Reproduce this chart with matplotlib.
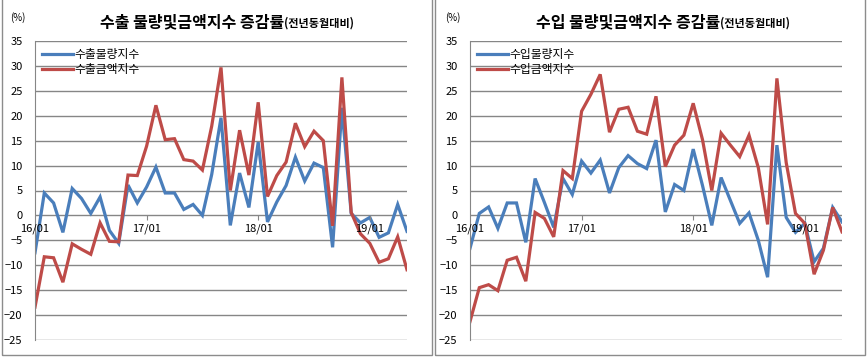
import numpy as np
import matplotlib.pyplot as plt
from matplotlib.patches import Rectangle

plt.rcParams['font.family'] = ['Noto Sans CJK KR', 'DejaVu Sans']

# monthly data, 2016/01 - 2019/05
months = ['16/01', '17/01', '18/01', '19/01']
month_idx = [0, 12, 24, 36]

exp_volume = [-7.5, 4.5, 2.5, -3.4, 5.4, 3.4, 0.4, 3.7, -3.0, -5.6,
              6.1, 2.5, 5.7, 9.7, 4.5, 4.5, 1.2, 2.2, 0.0, 8.2,
              19.6, -2.0, 8.5, 1.6, 14.7, -1.3, 2.7, 6.0, 11.7, 6.9,
              10.5, 9.6, -6.4, 21.6, 0.4, -1.5, -0.4, -4.4, -3.5, 2.2,
              -3.2]
exp_value = [-18.4, -8.3, -8.5, -13.4, -5.7, -6.8, -7.8, -1.5, -5.2, -5.3,
             8.1, 8.0, 13.9, 22.1, 15.2, 15.4, 11.2, 10.9, 9.1, 17.9,
             29.7, 5.0, 17.1, 8.1, 22.7, 3.8, 8.0, 10.7, 18.5, 13.8,
             16.9, 15.0, -2.1, 27.7, 0.6, -3.7, -5.6, -9.4, -8.7, -4.3,
             -10.9]

imp_volume = [-6.6, 0.4, 1.7, -2.6, 2.5, 2.5, -5.4, 7.4, 2.6, -2.4,
              7.4, 4.2, 10.9, 8.5, 11.1, 4.5, 9.6, 12.0, 10.4, 9.4,
              15.1, 0.7, 6.2, 5.0, 13.3, 6.0, -2.0, 7.6, 3.0, -1.6,
              0.5, -5.0, -12.4, 14.1, -0.4, -3.4, -1.6, -9.3, -6.6, 1.6,
              -1.3]
imp_value = [-21.3, -14.5, -13.9, -15.1, -9.0, -8.4, -13.2, 0.6, -0.6, -4.3,
             9.0, 7.4, 20.9, 24.3, 28.3, 16.7, 21.3, 21.7, 16.9, 16.3,
             23.9, 9.8, 14.1, 16.1, 22.5, 15.2, 5.0, 16.5, 14.1, 11.8,
             16.1, 9.6, -1.8, 27.5, 10.6, 0.4, -1.6, -11.8, -7.0, 1.6,
             -3.3]

blue = '#4A7EBB'
red = '#BE4B48'
grid_c = '#868686'

fig = plt.figure(figsize=(8.67, 3.59), dpi=100)
W, H = 867, 359


def px(x, y):
    return x / W, 1 - y / H


panels = [
    dict(left=35, vol=exp_volume, val=exp_value,
         title='수출 물량및금액지수 증감률', split=284,
         labels=['수출물량지수', '수출금액지수']),
    dict(left=470, vol=imp_volume, val=imp_value,
         title='수입 물량및금액지수 증감률', split=720,
         labels=['수입물량지수', '수입금액지수']),
]

for p in panels:
    l, b = px(p['left'], 340)
    ax = fig.add_axes([l, b, 372 / W, 299 / H])
    x = np.arange(len(p['vol']))
    ax.plot(x, p['vol'], color=blue, lw=2.3, label=p['labels'][0],
            solid_joinstyle='miter')
    ax.plot(x, p['val'], color=red, lw=2.3, label=p['labels'][1],
            solid_joinstyle='miter')
    ax.set_xlim(0, len(x) - 1)
    ax.set_ylim(-25, 35)
    ax.set_yticks(np.arange(-25, 36, 5))
    ax.yaxis.grid(True, color=grid_c, lw=1)
    ax.set_axisbelow(True)
    ax.set_xticks([])
    ax.tick_params(axis='y', length=0, pad=9, labelsize=8)
    for s in ['top', 'right', 'bottom']:
        ax.spines[s].set_visible(False)
    ax.spines['left'].set_color(grid_c)
    # category labels sit on the zero line
    ax.vlines(month_idx[1:], -0.9, 0, color=grid_c, lw=0.8)
    for i, m in zip(month_idx, months):
        ax.text(i, -2.7, m, ha='center', va='center', fontsize=8)
    ax.legend(loc='upper left', bbox_to_anchor=(0.02, 0.975), frameon=False,
              fontsize=8.5, handlelength=2.6, handletextpad=0.1,
              labelspacing=0.15, borderpad=0, borderaxespad=0)

    sx, sy = px(p['split'], 27)
    fig.text(sx, sy, p['title'], ha='right', va='baseline', fontsize=11.5,
             fontweight='bold')
    fig.text(sx, sy, '(전년동월대비)', ha='left', va='baseline', fontsize=8,
             fontweight='bold')
    tx, ty = px(p['left'] - 17, 18)
    fig.text(tx, ty, '(%)', ha='center', va='center', fontsize=7)

# panel frames
for x0, x1 in [(2, 432), (435, 865)]:
    fx, fy = px(x0, 355)
    fig.patches.append(Rectangle((fx, fy), (x1 - x0) / W, 1.1 - fy,
                                 transform=fig.transFigure, fill=False,
                                 edgecolor='#8c8c8c', lw=1))

fig.savefig('out.png', dpi=100)
